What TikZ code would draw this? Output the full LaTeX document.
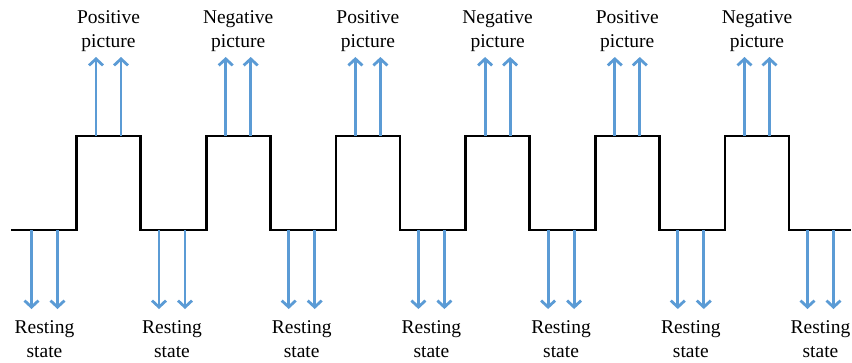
\documentclass[tikz,border=0pt]{standalone}
\usepackage{fontspec}
\setmainfont{Liberation Serif}
\newfontfamily\lserif{Liberation Serif}
\usetikzlibrary{arrows.meta}
\definecolor{arrowblue}{RGB}{91,155,213}
\tikzset{
  lbl/.style={anchor=north,inner sep=0pt,align=center,font=\lserif\fontsize{19.5}{24}\selectfont},
  sigline/.style={line width=2.8pt,black,line join=miter},
  bluearrow/.style={line width=2.8pt,arrowblue,-{Straight Barb[length=6.5pt,width=14pt]}}
}
\begin{document}
\begin{tikzpicture}[x=1pt,y=-1pt]
\useasboundingbox (0,0) rectangle (852,362);
% step signal
\draw[sigline] (11,230)
  \foreach \k in {0,...,5}{
    -- ({76.5+\k*129.7},230) -- ({76.5+\k*129.7},136)
    -- ({140.5+\k*129.7},136) -- ({140.5+\k*129.7},230)
  } -- (851,230);
% up arrows and labels
\foreach \k/\t in {0/Positive,1/Negative,2/Positive,3/Negative,4/Positive,5/Negative}{
  \pgfmathsetmacro{\r}{76.5+\k*129.7}
  \node[lbl] (up\k) at ({\r+32},10) {\t\\picture};
  \coordinate (ua\k) at ({\r+19.5},136);
  \coordinate (ub\k) at ({\r+44.5},136);
  \coordinate (uat\k) at ({\r+19.5},57);
  \coordinate (ubt\k) at ({\r+44.5},57);
  \draw[bluearrow] (ua\k) -- (uat\k);
  \draw[bluearrow] (ub\k) -- (ubt\k);
}
% down arrows and labels
\foreach \k in {0,...,6}{
  \pgfmathsetmacro{\f}{\k==0 ? 13 : 140.5+(\k-1)*129.7}
  \node[lbl] (dn\k) at ({\f+31.5},320) {Resting\\state};
  \coordinate (da\k) at ({\f+18.5},230);
  \coordinate (db\k) at ({\f+44.5},230);
  \coordinate (dat\k) at ({\f+18.5},309);
  \coordinate (dbt\k) at ({\f+44.5},309);
  \draw[bluearrow] (da\k) -- (dat\k);
  \draw[bluearrow] (db\k) -- (dbt\k);
}
\end{tikzpicture}
\end{document}
